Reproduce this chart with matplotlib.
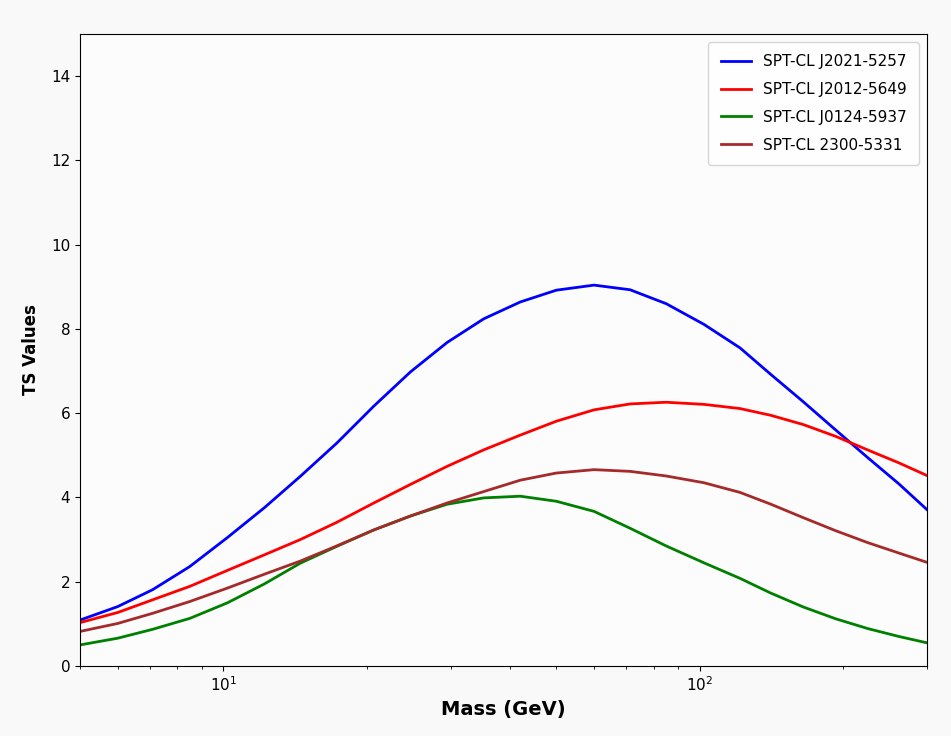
import numpy as np
import matplotlib
matplotlib.use('Agg')
import matplotlib.pyplot as plt

# values
mass = [5, 6, 7.1, 8.5, 10.2, 12.2, 14.5, 17.3, 20.7, 24.7, 29.5, 35.2, 42, 50, 60,
        71.4, 85, 102, 121.5, 141, 165, 193, 225, 262, 300]
ts_j2021 = [1.09, 1.41, 1.81, 2.36, 3.05, 3.76, 4.50, 5.29, 6.17, 6.98, 7.68, 8.24, 8.64, 8.92, 9.04,
            8.93, 8.60, 8.11, 7.55, 6.92, 6.27, 5.60, 4.95, 4.32, 3.71]
ts_j2012 = [1.03, 1.27, 1.57, 1.89, 2.27, 2.64, 3.00, 3.41, 3.87, 4.31, 4.74, 5.13, 5.48, 5.81, 6.08,
            6.22, 6.26, 6.21, 6.11, 5.95, 5.73, 5.45, 5.13, 4.82, 4.52]
ts_j0124 = [0.50, 0.66, 0.87, 1.13, 1.50, 1.95, 2.44, 2.84, 3.23, 3.56, 3.84, 3.99, 4.03, 3.91, 3.67,
            3.27, 2.85, 2.45, 2.08, 1.73, 1.40, 1.12, 0.89, 0.70, 0.55]
ts_2300 = [0.82, 1.01, 1.25, 1.53, 1.85, 2.18, 2.49, 2.85, 3.23, 3.56, 3.87, 4.14, 4.41, 4.58, 4.66,
           4.62, 4.51, 4.35, 4.12, 3.84, 3.52, 3.21, 2.93, 2.68, 2.46]

labels = ['SPT-CL J2021-5257', 'SPT-CL J2012-5649', 'SPT-CL J0124-5937', 'SPT-CL 2300-5331']
colors = ['blue', 'red', 'green', 'brown']

fig = plt.figure(figsize=(9.51, 7.36), dpi=100, facecolor='#f9f9f9')
ax = fig.add_axes([0.0841, 0.0951, 0.8907, 0.8587])
ax.set_facecolor('#fcfcfc')

for ts, lab, col in zip([ts_j2021, ts_j2012, ts_j0124, ts_2300], labels, colors):
    ax.plot(mass, ts, color=col, lw=2, label=lab)

ax.set_xscale('log')
ax.set_xlim(5, 300)
ax.set_ylim(0, 15)
ax.set_yticks(np.arange(0, 15, 2))
ax.tick_params(labelsize=11)

ax.set_xlabel('Mass (GeV)', fontsize=14, fontweight='bold')
ax.set_ylabel('TS Values', fontsize=12, fontweight='bold', labelpad=8)
ax.legend(loc='upper right', fontsize=11, labelspacing=0.85, borderpad=0.8)

fig.savefig('out.png', dpi=100, facecolor=fig.get_facecolor())
